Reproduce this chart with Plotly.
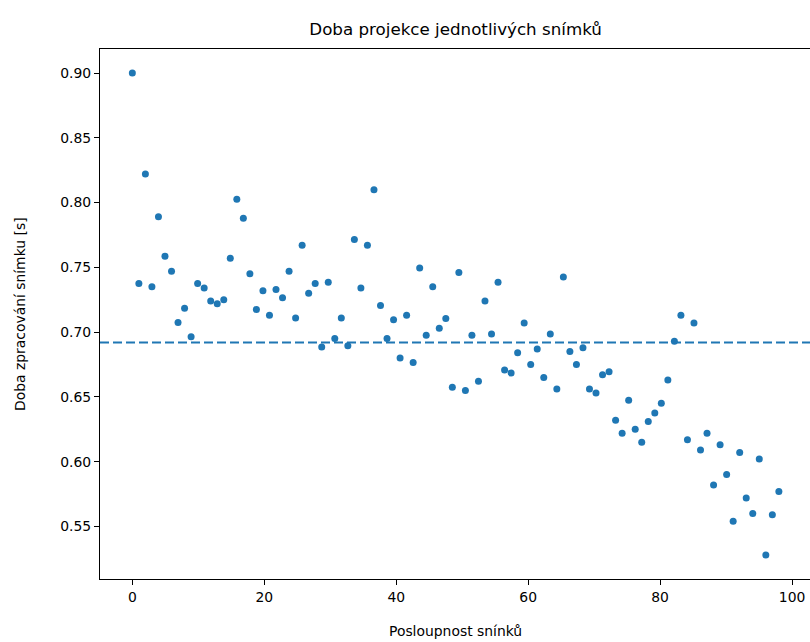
import numpy as np
import plotly.graph_objects as go

# ---- data ----
# 100 frames whose positions on the axis run evenly from 0 to 98
n_frames = 100
frame_position = list(np.linspace(0, 98, n_frames))
processing_time = [
    0.900, 0.7375, 0.822, 0.735, 0.789, 0.7585, 0.747, 0.7075, 0.7185, 0.6965,
    0.7375, 0.734, 0.724, 0.722, 0.725, 0.757, 0.8025, 0.788, 0.745, 0.7175,
    0.732, 0.713, 0.733, 0.7265, 0.747, 0.711, 0.767, 0.730, 0.7375, 0.6885,
    0.7385, 0.695, 0.711, 0.6895, 0.7715, 0.734, 0.767, 0.810, 0.7205, 0.695,
    0.7095, 0.680, 0.713, 0.6765, 0.7495, 0.6975, 0.735, 0.703, 0.7105, 0.6575,
    0.746, 0.655, 0.6975, 0.662, 0.724, 0.6985, 0.7385, 0.6708, 0.6685, 0.684,
    0.707, 0.675, 0.687, 0.665, 0.6985, 0.656, 0.7425, 0.685, 0.675, 0.688,
    0.656, 0.653, 0.667, 0.6695, 0.632, 0.622, 0.6475, 0.625, 0.615, 0.631,
    0.6375, 0.645, 0.663, 0.693, 0.713, 0.617, 0.707, 0.609, 0.622, 0.582,
    0.613, 0.590, 0.554, 0.607, 0.572, 0.560, 0.602, 0.528, 0.559, 0.577,
]
x_ticks = [0, 20, 40, 60, 80, 100]
y_ticks = [0.55, 0.60, 0.65, 0.70, 0.75, 0.80, 0.85, 0.90]

title_text = "Doba projekce jednotlivých snímků"
x_label = "Posloupnost snínků"
y_label = "Doba zpracování snímku [s]"

mean_time = float(np.mean(processing_time))

BLUE = "#1f77b4"
FONT = "DejaVu Sans"

W, H = 810, 642
ML, MT, MB, MR = 100, 49, 63, 0
plot_w = W - ML - MR
plot_h = H - MT - MB

# matplotlib-like 5% margins; right side of the figure is cropped in the reference
x_span = frame_position[-1] - frame_position[0]
x_lo = frame_position[0] - 0.05 * x_span
x_hi_full = frame_position[-1] + 0.05 * x_span
full_w = 711.2
x_hi = x_lo + (x_hi_full - x_lo) * plot_w / full_w
y_min, y_max = min(processing_time), max(processing_time)
y_pad = 0.05 * (y_max - y_min)

fig = go.Figure()
fig.add_trace(go.Scatter(
    x=frame_position, y=processing_time, mode="markers",
    marker=dict(color=BLUE, size=7, line=dict(width=0)),
    showlegend=False, hoverinfo="y",
))

fig.add_shape(type="line", xref="paper", yref="y", x0=0, x1=1,
              y0=mean_time, y1=mean_time,
              line=dict(color=BLUE, width=2, dash="9px,4px"))

axis_common = dict(
    showgrid=False, zeroline=False, showline=True, linecolor="black",
    linewidth=1, ticks="outside", ticklen=5, tickwidth=1, tickcolor="black",
    tickfont=dict(family=FONT, size=13.9, color="black"),
)

fig.update_xaxes(range=[x_lo, x_hi], tickvals=x_ticks,
                 ticktext=[str(v) for v in x_ticks], mirror=True, **axis_common)
fig.update_yaxes(range=[y_min - y_pad, y_max + y_pad], tickvals=y_ticks,
                 ticktext=[f"{v:.2f}" for v in y_ticks], mirror=False, **axis_common)

fig.add_annotation(text=x_label, xref="paper", yref="paper", x=0.5,
                   y=(579 - 631) / plot_h, xanchor="center", yanchor="middle",
                   showarrow=False, font=dict(family=FONT, size=13.9, color="black"))
fig.add_annotation(text=y_label, xref="paper", yref="paper",
                   x=(20 - ML) / plot_w, y=0.5, xanchor="center", yanchor="middle",
                   textangle=-90, showarrow=False,
                   font=dict(family=FONT, size=13.9, color="black"))

fig.update_layout(
    width=W, height=H,
    margin=dict(l=ML, r=MR, t=MT, b=MB, pad=0),
    paper_bgcolor="white", plot_bgcolor="white",
    title=dict(text=title_text, x=455.6 / W, xanchor="center",
               y=1 - 29.5 / H, yanchor="middle", yref="container",
               font=dict(family=FONT, size=16.7, color="black")),
    font=dict(family=FONT),
)

fig.write_html(
    "out.html",
    config={"displayModeBar": False},
    post_script="document.body.style.margin='0';document.body.style.overflow='hidden';",
)
